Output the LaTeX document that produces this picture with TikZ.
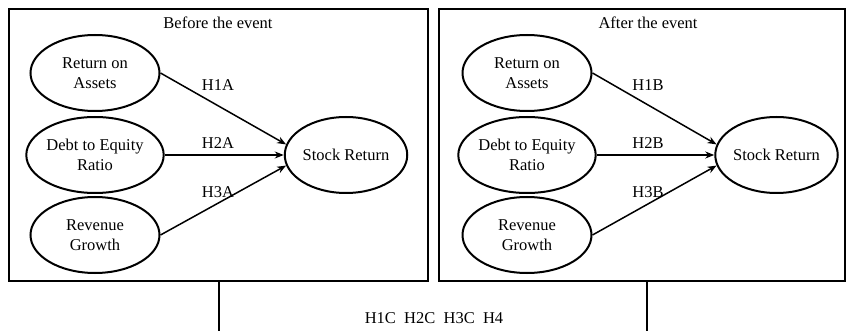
\documentclass[tikz,border=0pt]{standalone}
\usepackage{fontspec}
\setmainfont{Liberation Serif}
\usetikzlibrary{shapes.geometric,arrows.meta}
\begin{document}
\begin{tikzpicture}[x=1pt,y=-1pt,
  frame/.style={draw,line width=1.8pt},
  var/.style={ellipse,draw,line width=2pt,minimum width=129pt,minimum height=76pt,inner sep=0pt,align=center,font=\fontsize{16.5}{20}\selectfont},
  lab/.style={font=\fontsize{16.5}{20}\selectfont},
  arr/.style={-{Stealth[length=9pt,width=7pt]},line width=1.5pt},
  conn/.style={line width=1.8pt}]
\useasboundingbox (0,0) rectangle (846,331);
% frames
\draw[frame] (9,9) rectangle (428,281);
\draw[frame] (439,9) rectangle (845,281);
\node[lab] (tb) at (218,23) {Before the event};
\node[lab] (ta) at (648,23) {After the event};
% left panel
\node[var] (roa1) at (95,73) {Return on\\Assets};
\node[var] (der1) at (95,155) {Debt to Equity\\Ratio};
\node[var] (rg1) at (95,235) {Revenue\\Growth};
\node[var,minimum width=122pt] (sr1) at (346,155) {Stock Return};
\draw[arr] (roa1.east) -- (sr1.170);
\draw[arr] (der1) -- (sr1);
\draw[arr] (rg1.east) -- (sr1.190);
\node[lab] (l1a) at (218,85) {H1A};
\node[lab] (l2a) at (218,143) {H2A};
\node[lab] (l3a) at (218,192) {H3A};
% right panel
\node[var] (roa2) at (527,73) {Return on\\Assets};
\node[var] (der2) at (527,155) {Debt to Equity\\Ratio};
\node[var] (rg2) at (527,235) {Revenue\\Growth};
\node[var,minimum width=122pt] (sr2) at (776.5,155) {Stock Return};
\draw[arr] (roa2.east) -- (sr2.170);
\draw[arr] (der2) -- (sr2);
\draw[arr] (rg2.east) -- (sr2.190);
\node[lab] (l1b) at (648,85) {H1B};
\node[lab] (l2b) at (648,143) {H2B};
\node[lab] (l3b) at (648,192) {H3B};
% bottom
\coordinate (c1) at (219,281);
\coordinate (c2) at (219,331);
\coordinate (c3) at (647,281);
\coordinate (c4) at (647,331);
\draw[conn] (c1) -- (c2);
\draw[conn] (c3) -- (c4);
\node[lab] (bot) at (434,318) {H1C\ \ H2C\ \ H3C\ \ H4};
\end{tikzpicture}
\end{document}
